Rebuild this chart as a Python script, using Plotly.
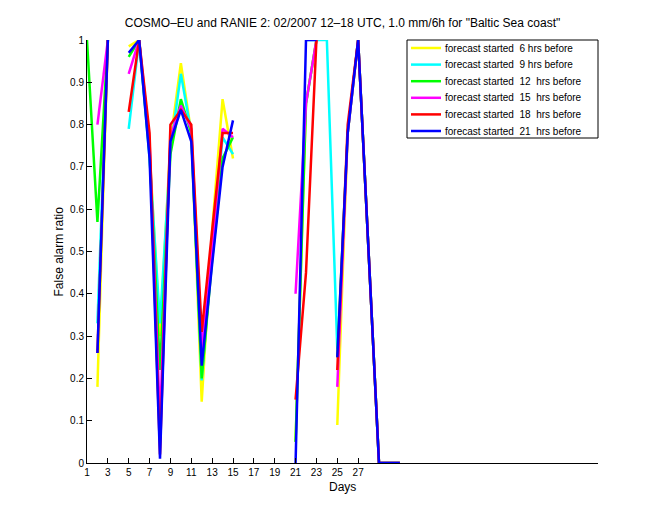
import plotly.graph_objects as go

nan = None
days = list(range(1, 32))

# values per day 1..31 (None = missing)
yellow_6h = [nan, 0.18, 1.0, nan, 0.985, 1.0, 0.74, 0.30, 0.76, 0.945, 0.78, 0.145, 0.55, 0.86, 0.72,
             nan, nan, nan, nan, nan, 0.05, 0.85, 1.0, nan, 0.09, 0.78, 1.0, 0.5, 0.0, 0.0, 0.0]
cyan_9h = [nan, 0.33, 1.0, nan, 0.79, 1.0, 0.72, 0.33, 0.74, 0.92, 0.78, 0.195, 0.50, 0.77, 0.73,
           nan, nan, nan, nan, nan, nan, 1.0, 1.0, 1.0, 0.27, nan, 1.0, 0.5, 0.0, 0.0, 0.0]
green_12h = [1.0, 0.57, 1.0, nan, 0.96, 1.0, 0.73, 0.22, 0.73, 0.86, 0.78, 0.20, 0.48, 0.72, 0.77,
             nan, nan, nan, nan, nan, 0.05, 0.85, 1.0, nan, 0.25, 0.78, 1.0, 0.5, 0.0, 0.0, 0.0]
magenta_15h = [nan, 0.80, 1.0, nan, 0.92, 1.0, 0.76, 0.10, 0.77, 0.845, 0.79, 0.27, 0.50, 0.79, 0.77,
               nan, nan, nan, nan, nan, 0.40, 0.85, 1.0, nan, 0.18, 0.78, 1.0, 0.5, 0.0, 0.0, 0.0]
red_18h = [nan, 0.26, 1.0, nan, 0.83, 1.0, 0.78, 0.02, 0.80, 0.835, 0.80, 0.31, 0.55, 0.78, 0.78,
           nan, nan, nan, nan, nan, 0.15, 0.45, 1.0, nan, 0.22, 0.80, 1.0, 0.5, 0.0, 0.0, 0.0]
blue_21h = [nan, 0.26, 1.0, nan, 0.97, 1.0, 0.72, 0.01, 0.76, 0.835, 0.76, 0.23, 0.47, 0.70, 0.81,
            nan, nan, nan, nan, nan, 0.0, 1.0, 1.0, nan, 0.25, 0.78, 1.0, 0.5, 0.0, 0.0, 0.0]

names = ["forecast started  6 hrs before", "forecast started  9 hrs before",
         "forecast started  12  hrs before", "forecast started  15  hrs before",
         "forecast started  18  hrs before", "forecast started  21  hrs before"]
values = [yellow_6h, cyan_9h, green_12h, magenta_15h, red_18h, blue_21h]
colors = ["#FFFF00", "#00FFFF", "#00FF00", "#FF00FF", "#FF0000", "#0000FF"]

xticks = list(range(1, 28, 2))
yticks = [0, 0.1, 0.2, 0.3, 0.4, 0.5, 0.6, 0.7, 0.8, 0.9, 1]
ytext = ["0", "0.1", "0.2", "0.3", "0.4", "0.5", "0.6", "0.7", "0.8", "0.9", "1"]

FONT = "Liberation Sans, Arial, Helvetica, sans-serif"

# plot-area geometry (pixels) for the hand-drawn legend
L, R, T, B = 87, 598, 40, 463
W, H = R - L, B - T
def px(x):
    return (x - L) / W
def py(y):
    return (B - y) / H

fig = go.Figure()
for name, vals, col in zip(names, values, colors):
    fig.add_trace(go.Scatter(x=days, y=vals, mode="lines", name=name,
                             line=dict(color=col, width=2.5), connectgaps=False,
                             showlegend=False))

shapes = [dict(type="rect", xref="paper", yref="paper", x0=px(407), x1=px(598),
               y0=py(138), y1=py(40), line=dict(color="black", width=1),
               fillcolor="white", layer="above")]
annotations = []
for i, (name, col) in enumerate(zip(names, colors)):
    yy = 48 + 16.6 * i
    shapes.append(dict(type="line", xref="paper", yref="paper", x0=px(411), x1=px(441),
                       y0=py(yy), y1=py(yy), line=dict(color=col, width=2.5), layer="above"))
    annotations.append(dict(text=name, xref="paper", yref="paper", x=px(443), y=py(yy),
                            xanchor="left", yanchor="middle", showarrow=False,
                            font=dict(family=FONT, size=10, color="black")))

annotations += [
    dict(text="Days", xref="paper", yref="paper", x=0.5, y=-15 / H, yanchor="top",
         showarrow=False, font=dict(family=FONT, size=12)),
    dict(text="False alarm ratio", xref="paper", yref="paper", x=-20 / W, y=0.5,
         xanchor="right", textangle=-90, showarrow=False, font=dict(family=FONT, size=12)),
]

fig.update_layout(
    width=660, height=520,
    margin=dict(l=L, r=660 - R, t=T, b=520 - B),
    paper_bgcolor="white", plot_bgcolor="white",
    font=dict(family=FONT, size=10, color="black"),
    title=dict(text='COSMO\u2013EU and RANIE 2: 02/2007 12\u201318 UTC, 1.0 mm/6h for "Baltic Sea coast"',
               x=0.519, xanchor="center", y=1 - 23 / 520, yanchor="middle",
               font=dict(family=FONT, size=12, color="black")),
    showlegend=False,
    xaxis=dict(range=[1, 50], tickvals=xticks, ticktext=[str(v) for v in xticks],
               showline=True, linecolor="black", linewidth=1, ticks="inside", ticklen=5,
               tickcolor="black", showgrid=False, zeroline=False, mirror=False,
               tickfont=dict(family=FONT, size=10)),
    yaxis=dict(range=[0, 1], tickvals=yticks, ticktext=ytext,
               showline=True, linecolor="black", linewidth=1, ticks="inside", ticklen=5,
               tickcolor="black", showgrid=False, zeroline=False, mirror=False,
               tickfont=dict(family=FONT, size=10)),
    shapes=shapes,
    annotations=annotations,
)

fig.write_html("out.html")
